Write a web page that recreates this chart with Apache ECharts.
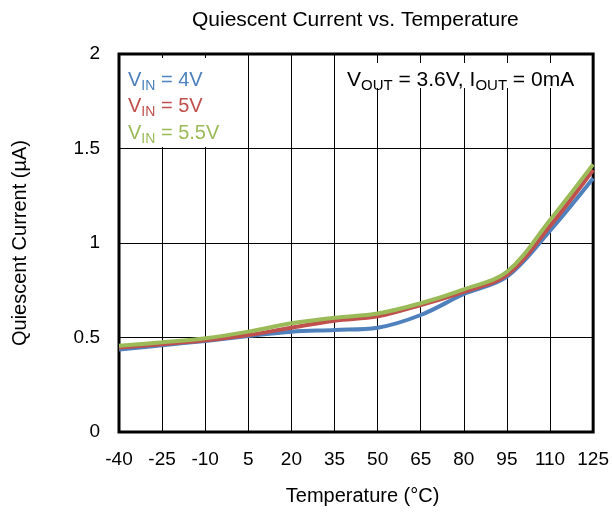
<!DOCTYPE html>
<html>
<head>
<meta charset="utf-8">
<script src="https://cdn.jsdelivr.net/npm/echarts@6/dist/echarts.min.js"></script>
<style>
  html, body { margin: 0; padding: 0; background: #fff; }
  #chart { width: 612px; height: 516px; }
</style>
</head>
<body>
<div id="chart"></div>
<script>
// Temperature points (°C)
const temperatures = [-40, -25, -10, 5, 20, 35, 50, 65, 80, 95, 110, 125];
// Quiescent current (µA) for each input voltage
const iqVin4 = [0.437, 0.459, 0.482, 0.508, 0.531, 0.540, 0.552, 0.619, 0.730, 0.822, 1.065, 1.342];
const iqVin5 = [0.447, 0.464, 0.485, 0.513, 0.552, 0.589, 0.612, 0.672, 0.742, 0.831, 1.090, 1.386];
const iqVin55 = [0.456, 0.475, 0.496, 0.531, 0.575, 0.605, 0.627, 0.681, 0.755, 0.848, 1.122, 1.416];
const yTicks = { min: 0, max: 2, step: 0.5 };

const FONT = '"Liberation Sans", Arial, sans-serif';
const BLUE = '#4F81BD', RED = '#C0504D', GREEN = '#9BBB59';

const chart = echarts.init(document.getElementById('chart'), null, { renderer: 'canvas' });

function richLabel(text, color, x, y) {
  return {
    type: 'text',
    x: x,
    y: y,
    z: 100,
    style: {
      text: text,
      fill: color,
      verticalAlign: 'middle',
      rich: {
        v: { fontSize: 20, fontFamily: FONT, fill: color },
        s: { fontSize: 14, fontFamily: FONT, fill: color, padding: [12, 0, 0, 0] }
      }
    }
  };
}

function series(name, data, color) {
  return {
    name: name,
    type: 'line',
    data: data,
    smooth: 0.35,
    symbol: 'none',
    lineStyle: { color: color, width: 4 },
    itemStyle: { color: color }
  };
}

chart.setOption({
  animation: false,
  backgroundColor: '#fff',
  title: {
    text: 'Quiescent Current vs. Temperature',
    left: 187,
    top: 5,
    textStyle: { fontFamily: FONT, fontSize: 21, fontWeight: 'normal', color: '#000' }
  },
  grid: {
    left: 119, right: 16, top: 54, bottom: 84,
    show: true, borderColor: '#000', borderWidth: 3
  },
  xAxis: {
    type: 'category',
    data: temperatures.map(String),
    boundaryGap: false,
    name: 'Temperature (°C)',
    nameLocation: 'middle',
    nameGap: 54,
    nameTextStyle: { fontFamily: FONT, fontSize: 20, color: '#000', padding: [0, 0, 0, 13] },
    axisLine: { show: false },
    axisTick: { show: false },
    axisLabel: { fontFamily: FONT, fontSize: 19, color: '#000', margin: 18 },
    splitLine: { show: true, lineStyle: { color: '#000', width: 1 } }
  },
  yAxis: {
    type: 'value',
    min: yTicks.min, max: yTicks.max, interval: yTicks.step,
    name: 'Quiescent Current (µA)',
    nameLocation: 'middle',
    nameGap: 89,
    nameTextStyle: { fontFamily: FONT, fontSize: 20, color: '#000' },
    axisLine: { show: false },
    axisTick: { show: false },
    axisLabel: { fontFamily: FONT, fontSize: 19, color: '#000', margin: 19 },
    splitLine: { show: true, lineStyle: { color: '#000', width: 1 } }
  },
  graphic: [
    // white panels behind the in-plot notes
    { type: 'rect', z: 99, shape: { x: 121, y: 58, width: 96, height: 89 }, style: { fill: '#fff' } },
    { type: 'rect', z: 99, shape: { x: 340, y: 63, width: 245, height: 25 }, style: { fill: '#fff' } },
    richLabel('{v|V}{s|IN}{v| = 4V}', BLUE, 128, 80),
    richLabel('{v|V}{s|IN}{v| = 5V}', RED, 128, 106),
    richLabel('{v|V}{s|IN}{v| = 5.5V}', GREEN, 128, 133),
    {
      type: 'text',
      x: 347,
      y: 80,
      z: 100,
      style: {
        text: '{v|V}{s|OUT}{v| = 3.6V, I}{s|OUT}{v| = 0mA}',
        fill: '#000',
        verticalAlign: 'middle',
        rich: {
          v: { fontSize: 21, fontFamily: FONT, fill: '#000' },
          s: { fontSize: 15, fontFamily: FONT, fill: '#000', padding: [12, 0, 0, 0] }
        }
      }
    }
  ],
  series: [
    series('VIN = 4V', iqVin4, BLUE),
    series('VIN = 5V', iqVin5, RED),
    series('VIN = 5.5V', iqVin55, GREEN)
  ]
});
</script>
</body>
</html>
